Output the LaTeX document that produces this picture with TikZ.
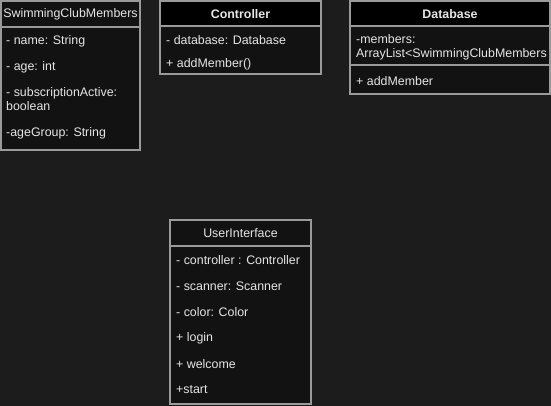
\documentclass[tikz,border=0pt]{standalone}
\usepackage{fontspec}
\setmainfont{Liberation Sans}
\usepackage{tikz}

\definecolor{canvas}{HTML}{1C1C1C}
\definecolor{boxfill}{HTML}{121212}
\definecolor{edge}{HTML}{9A9A9A}
\definecolor{ink}{HTML}{E6E6E6}

\tikzset{
	box/.style={draw=edge,fill=boxfill,line width=1.2pt},
	head/.style={draw=edge,fill=black,line width=1.2pt},
	entry/.style={anchor=west,inner sep=0pt,text=ink,align=left,font=\fontsize{12.4}{14}\selectfont},
	title/.style={inner sep=0pt,text=ink,font=\fontsize{12.4}{14}\selectfont},
}

\begin{document}
\begin{tikzpicture}[x=1pt,y=-1pt]

	\fill[canvas] (0,0) rectangle (551,406);
	\useasboundingbox (0,0) rectangle (551,406);

	% SwimmingClubMembers
	\draw[box] (1,1) rectangle (140,150);
	\draw[edge,line width=1.2pt] (1,27) -- (140,27);
	\node[title] (members) at (70.5,14) {SwimmingClubMembers};
	\node[entry] (name) at (6,41) {- name: String};
	\node[entry] (age) at (6,67) {- age: int};
	\node[entry] (active) at (6,99.5) {- subscriptionActive:\\boolean};
	\node[entry] (group) at (6,133) {-ageGroup: String};

	% Controller
	\draw[box] (160,1) rectangle (321,74);
	\draw[head] (160,1) rectangle (321,26);
	\node[title,font=\fontsize{12.4}{14}\bfseries] (controller) at (240.5,14) {Controller};
	\node[entry] (database) at (166,40) {- database: Database};
	\node[entry] (addmember) at (166,64) {+ addMember()};

	% Database
	\draw[box] (350,1) rectangle (550,94);
	\draw[head] (350,1) rectangle (550,26);
	\draw[edge,line width=1.2pt] (350,65) -- (550,65);
	\node[title,font=\fontsize{12.4}{14}\bfseries] (database) at (450,14) {Database};
	\node[entry] (list) at (356,47) {-members:\\ArrayList<SwimmingClubMembers};
	\node[entry] (add) at (356,81) {+ addMember};

	% UserInterface
	\draw[box] (170,220) rectangle (311,404);
	\draw[edge,line width=1.2pt] (170,246) -- (311,246);
	\node[title] (ui) at (240.5,233) {UserInterface};
	\node[entry] (ctrl) at (176,260) {- controller : Controller};
	\node[entry] (scanner) at (176,286) {- scanner: Scanner};
	\node[entry] (color) at (176,312) {- color: Color};
	\node[entry] (login) at (176,338) {+ login};
	\node[entry] (welcome) at (176,364) {+ welcome};
	\node[entry] (start) at (176,390) {+start};

\end{tikzpicture}
\end{document}
